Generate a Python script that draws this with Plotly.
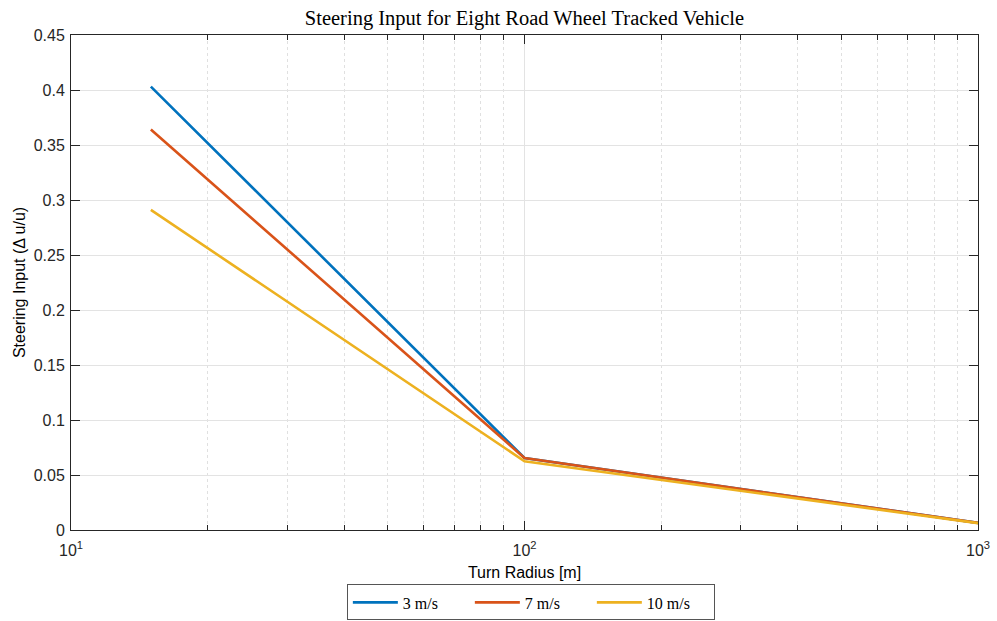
import plotly.graph_objects as go

turn_radius = [15, 100, 1000]
series_names = ["3 m/s", "7 m/s", "10 m/s"]
steer_3 = [0.403, 0.0655, 0.0065]
steer_7 = [0.364, 0.0655, 0.0065]
steer_10 = [0.291, 0.0625, 0.0062]
colors = ["#0072BD", "#D95319", "#EDB120"]

x_tickvals = [10, 100, 1000]
x_ticktext = ["10<sup>1</sup>", "10<sup>2</sup>", "10<sup>3</sup>"]
y_tickvals = [0, 0.05, 0.1, 0.15, 0.2, 0.25, 0.3, 0.35, 0.4, 0.45]

fig = go.Figure()
for name, ys, c in zip(series_names, [steer_3, steer_7, steer_10], colors):
    fig.add_trace(go.Scatter(x=turn_radius, y=ys, mode="lines", name=name,
                             line=dict(color=c, width=2.6)))

axis_color = "#262626"
grid_color = "#e3e3e3"
fig.update_layout(
    width=997, height=621,
    margin=dict(l=71, r=19, t=35, b=91, autoexpand=False),
    paper_bgcolor="white", plot_bgcolor="white",
    title=dict(text="Steering Input for Eight Road Wheel Tracked Vehicle",
               x=0.5, xref="paper", xanchor="center", y=1, yref="paper", yanchor="bottom",
               pad=dict(b=10), automargin=False,
               font=dict(family="Liberation Serif", size=20.5, color="#000000")),
    font=dict(family="Liberation Sans", size=14, color=axis_color),
    legend=dict(orientation="h", x=0.507, xanchor="center", y=-0.11, yanchor="top",
                bordercolor="#555555", borderwidth=1, bgcolor="white",
                font=dict(family="Liberation Serif", size=16, color="#000000"),
                itemwidth=45, entrywidth=62, entrywidthmode="pixels", tracegroupgap=0),
    showlegend=True,
)
fig.update_xaxes(
    type="log", range=[1, 3], tickvals=x_tickvals, ticktext=x_ticktext,
    ticks="inside", ticklen=9, tickcolor=axis_color, tickwidth=1,
    showline=True, linecolor=axis_color, linewidth=1, mirror="allticks",
    showgrid=True, gridcolor=grid_color, gridwidth=1,
    minor=dict(dtick="D1", ticks="inside", ticklen=5, tickcolor=axis_color,
               showgrid=True, gridcolor="#e0e0e0", griddash="dot", gridwidth=1),
    zeroline=False, automargin=False, ticklabelstandoff=6,
    title=dict(text="Turn Radius [m]", font=dict(family="Liberation Sans", size=16, color="#000000"),
               standoff=8),
    tickfont=dict(family="Liberation Sans", size=16, color=axis_color),
)
fig.update_yaxes(
    range=[0, 0.45], tickvals=y_tickvals,
    ticks="inside", ticklen=9, tickcolor=axis_color, tickwidth=1,
    showline=True, linecolor=axis_color, linewidth=1, mirror="allticks",
    showgrid=True, gridcolor=grid_color, gridwidth=1, zeroline=False,
    automargin=False, ticklabelstandoff=2,
    title=dict(text="Steering Input (Δ u/u)", font=dict(family="Liberation Sans", size=16, color="#000000"),
               standoff=4),
    tickfont=dict(family="Liberation Sans", size=16, color=axis_color),
)

fig.write_html("out.html", config={"displayModeBar": False},
               post_script="document.body.style.margin='0px';document.body.style.overflow='hidden';")
